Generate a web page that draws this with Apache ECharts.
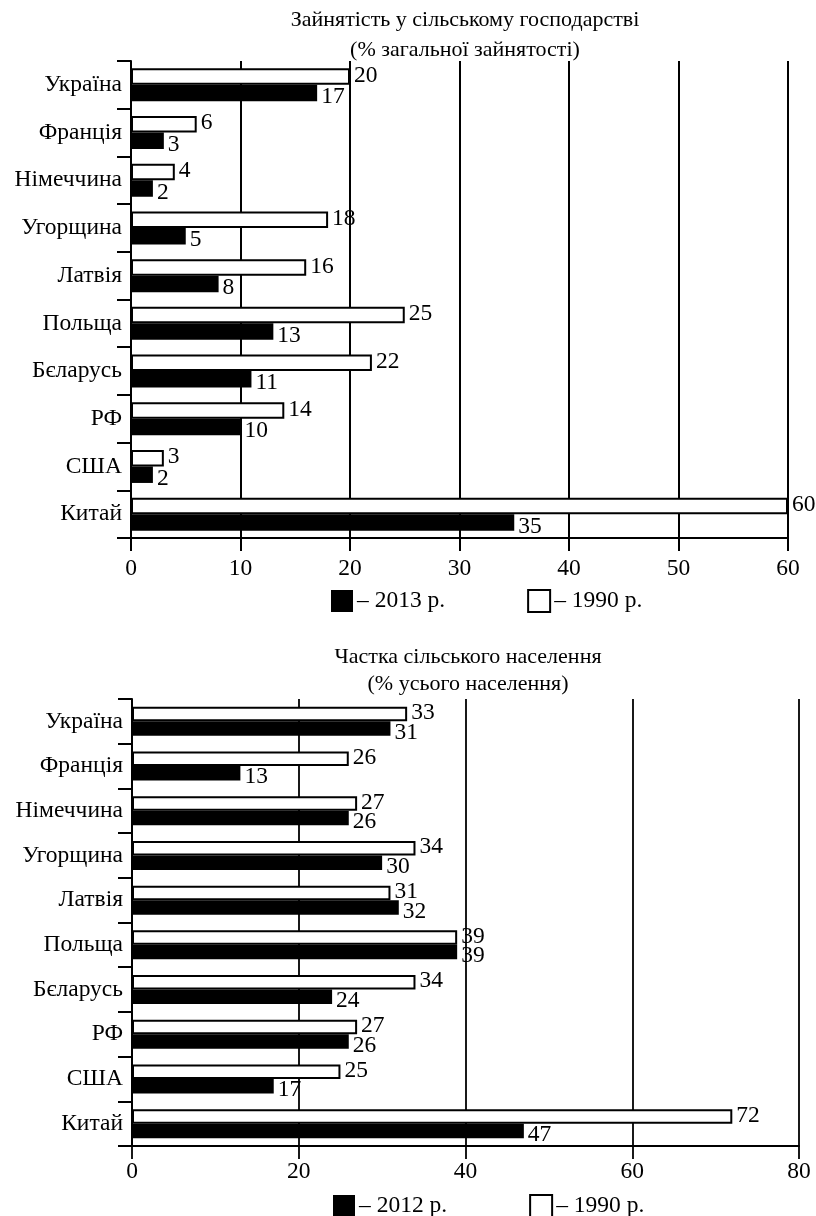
<!DOCTYPE html>
<html>
<head>
<meta charset="utf-8">
<script src="https://cdn.jsdelivr.net/npm/echarts@6/dist/echarts.min.js"></script>
<style>
html,body{margin:0;padding:0;background:#fff;}
#main{width:816px;height:1216px;}
</style>
</head>
<body>
<div id="main"></div>
<script>
// ---- data ----
const countries = ['Україна','Франція','Німеччина','Угорщина','Латвія','Польща','Бєларусь','РФ','США','Китай'];
const employ1990 = [20, 6, 4, 18, 16, 25, 22, 14, 3, 60];
const employ2013 = [17, 3, 2, 5, 8, 13, 11, 10, 2, 35];
const rural1990 = [33, 26, 27, 34, 31, 39, 34, 27, 25, 72];
const rural2012 = [31, 13, 26, 30, 32, 39, 24, 26, 17, 47];
const employTicks = [0, 10, 20, 30, 40, 50, 60];
const ruralTicks = [0, 20, 40, 60, 80];
const title1 = 'Зайнятість у сільському господарстві\n(% загальної зайнятості)';
const title2 = 'Частка сільського населення\n(% усього населення)';
const legend1 = ['2013 р.', '1990 р.'];
const legend2 = ['2012 р.', '1990 р.'];

const FONT = "'Liberation Serif','Times New Roman',serif";
const FS = 23.5;

function xAxisFor(gridIndex, ticks, lw, margin) {
  return {
    gridIndex: gridIndex, type: 'value',
    min: ticks[0], max: ticks[ticks.length - 1], interval: ticks[1] - ticks[0],
    axisLine: {show: true, lineStyle: {color: '#000', width: 2}},
    axisTick: {show: true, inside: false, length: 13, lineStyle: {color: '#000', width: lw}},
    axisLabel: {color: '#000', fontFamily: FONT, fontSize: FS, margin: margin},
    splitLine: {show: true, lineStyle: {color: '#000', width: lw, type: 'solid'}}
  };
}
function yAxisFor(gridIndex) {
  return {
    gridIndex: gridIndex, type: 'category', data: countries, inverse: true,
    boundaryGap: true,
    axisLine: {show: true, lineStyle: {color: '#000', width: 2}},
    axisTick: {show: true, inside: false, length: 14, alignWithLabel: false, lineStyle: {color: '#000', width: 2}},
    axisLabel: {color: '#000', fontFamily: FONT, fontSize: FS, margin: 9},
    splitLine: {show: false}
  };
}
function barSeries(name, data, idx, white, bw) {
  return {
    name: name, type: 'bar', data: data, xAxisIndex: idx, yAxisIndex: idx,
    barWidth: bw, barGap: '0%',
    itemStyle: white ? {color: '#fff', borderColor: '#000', borderWidth: 2} : {color: '#000', borderColor: '#000', borderWidth: 0},
    label: {
      show: true, position: 'right', distance: 4,
      offset: white ? [0, -1] : [0, 4],
      color: '#000', fontFamily: FONT, fontSize: FS
    },
    emphasis: {disabled: true},
    animation: false
  };
}
function legendFor(names, top, left) {
  return {
    data: [
      {name: names[0], icon: 'rect', itemStyle: {color: '#000', borderColor: '#000', borderWidth: 0}},
      {name: names[1], icon: 'rect', itemStyle: {color: '#fff', borderColor: '#000', borderWidth: 2}}
    ],
    top: top, left: left, itemWidth: 22, itemHeight: 22, itemGap: 82,
    formatter: function (n) { return '– ' + n; },
    textStyle: {color: '#000', fontFamily: FONT, fontSize: FS, padding: [0, 0, 0, -1]},
    selectedMode: false
  };
}

const chart = echarts.init(document.getElementById('main'), null, {renderer: 'canvas'});
chart.setOption({
  backgroundColor: '#fff',
  animation: false,
  title: [
    {text: title1, left: 460, top: 0, textAlign: 'center',
     textStyle: {color: '#000', fontFamily: FONT, fontSize: 22, fontWeight: 'normal', lineHeight: 30}},
    {text: title2, left: 463, top: 639, textAlign: 'center',
     textStyle: {color: '#000', fontFamily: FONT, fontSize: 22, fontWeight: 'normal', lineHeight: 27}}
  ],
  legend: [legendFor(legend1, 584, 326), legendFor(legend2, 1189, 328)],
  grid: [
    {left: 131, right: 28, top: 61, bottom: 678, containLabel: false},
    {left: 132, right: 17, top: 699, bottom: 70, containLabel: false}
  ],
  xAxis: [xAxisFor(0, employTicks, 2, 19), xAxisFor(1, ruralTicks, 1.8, 14)],
  yAxis: [yAxisFor(0), yAxisFor(1)],
  series: [
    barSeries(legend1[1], employ1990, 0, true, 16.5),
    barSeries(legend1[0], employ2013, 0, false, 16.5),
    barSeries(legend2[1], rural1990, 1, true, 14.5),
    barSeries(legend2[0], rural2012, 1, false, 14.5)
  ]
});
</script>
</body>
</html>
